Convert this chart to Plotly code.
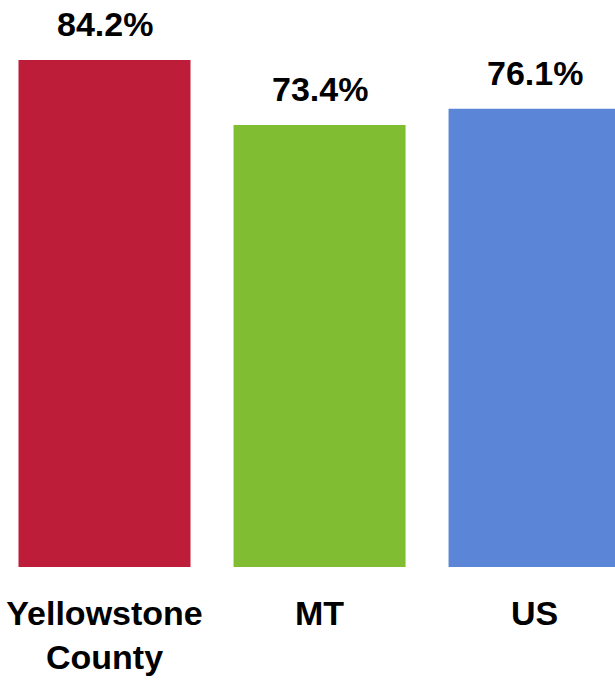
import plotly.graph_objects as go

categories = ["Yellowstone<br>County", "MT", "US"]
values = [84.2, 73.4, 76.1]
value_labels = ["84.2%", "73.4%", "76.1%"]
colors = ["#BE1D3A", "#80BD32", "#5B85D6"]

FONT = "Liberation Sans, Arial, sans-serif"

fig = go.Figure()
fig.add_trace(go.Bar(
    x=categories, y=values,
    marker=dict(color=colors, line=dict(width=0)),
    width=0.8,
    hoverinfo="skip",
))

for c, v, t in zip(categories, values, value_labels):
    fig.add_annotation(
        x=c, y=v, text=f"<b>{t}</b>", showarrow=False,
        yanchor="bottom", yshift=15,
        font=dict(family=FONT, size=34, color="#000000"),
    )

fig.update_layout(
    width=615, height=683,
    margin=dict(l=0, r=0, t=0, b=116, autoexpand=False),
    paper_bgcolor="white", plot_bgcolor="white",
    showlegend=False,
    hovermode=False,
    font=dict(family=FONT, size=34, color="#000000"),
)
fig.update_xaxes(
    range=[-0.486, 2.374],
    automargin=False,
    showgrid=False, showline=False, zeroline=False, ticks="",
    tickfont=dict(family=FONT, size=34, color="#000000"),
    ticklabelstandoff=23,
    tickvals=categories,
    ticktext=[f"<b>{c}</b>" for c in categories],
)
fig.update_yaxes(
    range=[0, 94.17], visible=False, showgrid=False, zeroline=False,
    automargin=False,
)

fig.write_html(
    "out.html",
    config={"displayModeBar": False, "staticPlot": True},
    post_script="document.body.style.margin='0';document.body.style.overflow='hidden';",
)
